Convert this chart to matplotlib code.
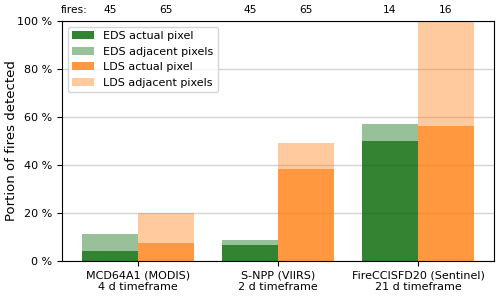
import numpy as np
import matplotlib.pyplot as plt
from matplotlib.ticker import FuncFormatter

# datos (porcentaje de incendios detectados)
productos = ['MCD64A1 (MODIS)\n4 d timeframe', 'S-NPP (VIIRS)\n2 d timeframe',
             'FireCCISFD20 (Sentinel)\n21 d timeframe']
eds_actual = [4.4, 6.7, 50.0]
eds_adyacente = [6.7, 2.2, 7.1]      # incremento sobre el píxel real
lds_actual = [7.7, 38.5, 56.25]
lds_adyacente = [12.3, 10.8, 43.75]
incendios_eds = [45, 45, 14]
incendios_lds = [65, 65, 16]

plt.rcParams['font.size'] = 8
fig = plt.figure(figsize=(5, 2.96), dpi=100)
ax = fig.add_axes([0.124, 0.118, 0.864, 0.811])

x = np.arange(len(productos))
ancho = 0.4
verde = 'darkgreen'
naranja = 'tab:orange'

ax.bar(x - ancho / 2, eds_actual, ancho, color=verde, alpha=0.8, label='EDS actual pixel')
ax.bar(x - ancho / 2, eds_adyacente, ancho, bottom=eds_actual, color=verde, alpha=0.4,
       label='EDS adjacent pixels')
ax.bar(x + ancho / 2, lds_actual, ancho, color=naranja, alpha=0.8, label='LDS actual pixel')
ax.bar(x + ancho / 2, lds_adyacente, ancho, bottom=lds_actual, color=naranja, alpha=0.4,
       label='LDS adjacent pixels')

ax.set_xlim(-0.543, 2.543)
ax.set_ylim(0, 100)
ax.set_yticks(np.arange(0, 101, 20))
ax.yaxis.set_major_formatter(FuncFormatter(lambda v, p: f'{v:.0f} %'))
ax.set_xticks(x)
ax.set_xticklabels(productos)
ax.set_ylabel('Portion of fires detected', fontsize=9.5)
ax.yaxis.set_label_coords(-0.102, 0.5)
ax.yaxis.grid(True, color='lightgray', linewidth=1)
ax.set_axisbelow(True)

# número de incendios encima de cada barra
trans = ax.get_xaxis_transform()
for i in range(len(productos)):
    ax.text(x[i] - ancho / 2, 1.046, str(incendios_eds[i]), transform=trans,
            ha='center', va='center', fontsize=7.7)
    ax.text(x[i] + ancho / 2, 1.046, str(incendios_lds[i]), transform=trans,
            ha='center', va='center', fontsize=7.7)
ax.text(-0.36, 1.046, 'fires:', transform=trans, ha='right', va='center', fontsize=7.7)

ax.legend(loc='upper left', fontsize=8)

fig.savefig('out.png', dpi=100)
